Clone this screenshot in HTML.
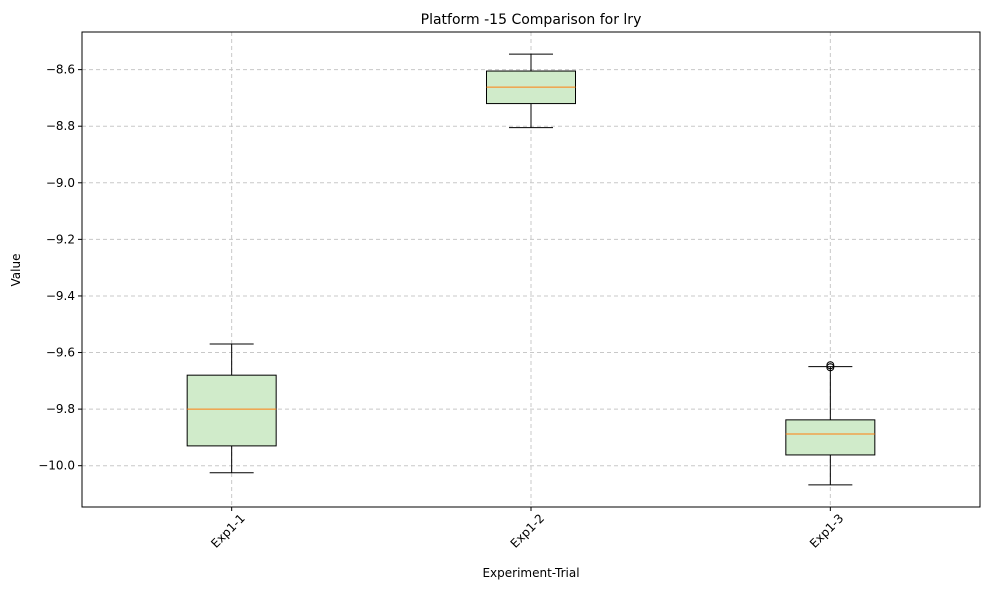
<!DOCTYPE html>
<html><head><meta charset="utf-8"><style>
body{margin:0;background:#fff;font-family:"Liberation Sans","DejaVu Sans",sans-serif}
</style></head><body>
<svg id="chart" width="989" height="590" xmlns="http://www.w3.org/2000/svg" font-family="DejaVu Sans, Liberation Sans, sans-serif">
<rect width="989" height="590" fill="#fff"/>
<g id="grid"></g>
<g id="boxes"></g>
<rect x="82" y="32" width="898" height="475" fill="none" stroke="#000" stroke-width="1"/>
<g id="axes" font-size="12"></g>
<text x="531" y="24" text-anchor="middle" font-size="14">Platform -15 Comparison for lry</text>
<text x="531" y="577" text-anchor="middle" font-size="12">Experiment-Trial</text>
<text transform="translate(20,270) rotate(-90)" text-anchor="middle" font-size="12">Value</text>
</svg>
<script>
const categories = ["Exp1-1","Exp1-2","Exp1-3"];
const whiskerLow = [-10.025,-8.805,-10.068];
const q1 = [-9.93,-8.72,-9.962];
const medians = [-9.80,-8.662,-9.888];
const q3 = [-9.68,-8.605,-9.838];
const whiskerHigh = [-9.57,-8.545,-9.65];
const outliers = [[],[],[-9.645,-9.652]];
const yTicks = [-10.0,-9.8,-9.6,-9.4,-9.2,-9.0,-8.8,-8.6];
const yMin=-10.146, yMax=-8.467;
const L=82,R=980,T=32,B=507;
const NS="http://www.w3.org/2000/svg";
const x=i=>L+(i+0.5)*(R-L)/categories.length;
const y=v=>T+(yMax-v)/(yMax-yMin)*(B-T);
function mk(tag,attrs,parent){const e=document.createElementNS(NS,tag);for(const k in attrs)e.setAttribute(k,attrs[k]);parent.appendChild(e);return e;}
const grid=document.getElementById('grid'),boxes=document.getElementById('boxes'),axes=document.getElementById('axes');
yTicks.forEach(t=>{
 const g=mk('line',{x1:L,x2:R,y1:y(t),y2:y(t),stroke:'#c8c8c8','stroke-dasharray':'4,3'},grid);
 
 
 const tk=mk('line',{x1:L-4,x2:L,y1:y(t),y2:y(t),stroke:'#000'},axes);
 
 
 const lb=mk('text',{x:L-7,y:y(t)+4,'text-anchor':'end'},axes);
 lb.textContent=t.toFixed(1).replace('-','\u2212');
 
 
});
const bw=89,cw=44;
categories.forEach((c,i)=>{
 const cx=x(i);
 const gl=mk('line',{x1:cx,x2:cx,y1:T,y2:B,stroke:'#c8c8c8','stroke-dasharray':'4,3'},grid);
 
 
 const g=mk('g',{},boxes);
 
 
 mk('line',{x1:cx,x2:cx,y1:y(whiskerHigh[i]),y2:y(q3[i]),stroke:'#000'},g);
 mk('line',{x1:cx,x2:cx,y1:y(q1[i]),y2:y(whiskerLow[i]),stroke:'#000'},g);
 mk('line',{x1:cx-cw/2,x2:cx+cw/2,y1:y(whiskerHigh[i]),y2:y(whiskerHigh[i]),stroke:'#000'},g);
 mk('line',{x1:cx-cw/2,x2:cx+cw/2,y1:y(whiskerLow[i]),y2:y(whiskerLow[i]),stroke:'#000'},g);
 mk('rect',{x:cx-bw/2,y:y(q3[i]),width:bw,height:y(q1[i])-y(q3[i]),fill:'#d0ebca',stroke:'#000'},g);
 mk('line',{x1:cx-bw/2,x2:cx+bw/2,y1:y(medians[i]),y2:y(medians[i]),stroke:'#ff7f0e'},g);
 outliers[i].forEach(o=>{
  const p=mk('circle',{cx:cx,cy:y(o),r:3.5,fill:'none',stroke:'#000'},g);
  
  
 });
 const tk=mk('line',{x1:cx,x2:cx,y1:B,y2:B+4,stroke:'#000'},axes);
 
 
 const lb=mk('text',{transform:`translate(${cx+14},${B+12}) rotate(-45)`,'text-anchor':'end'},axes);
 lb.textContent=c;
 
 
});
</script>
</body></html>
